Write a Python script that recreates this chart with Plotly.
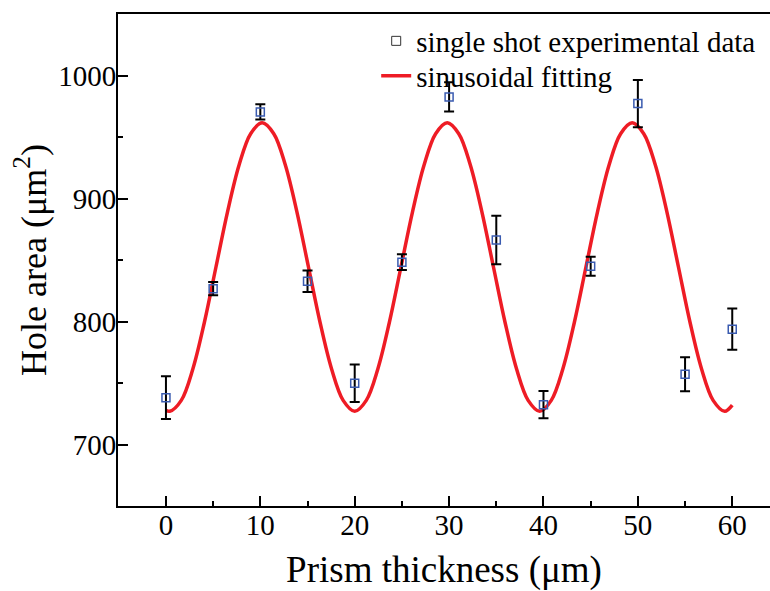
import plotly.graph_objects as go

thickness = [0, 5, 10, 15, 20, 25, 30, 35, 40, 45, 50, 55, 60]
hole_area = [738.1, 826.7, 970.4, 832.7, 749.8, 848.2, 982.6, 866.3, 732.4, 844.9, 977.2, 757.1, 793.8]
area_err = [17.3, 5.4, 6.2, 8.8, 15.3, 6.4, 11.9, 19.7, 11.0, 7.7, 19.2, 13.9, 16.7]

# Sinusoidal fitting curve
fit_x = [0, 0.4, 1.625, 2.85, 4.075, 5.3, 6.525, 7.75, 8.975, 10.2, 11.425, 12.65, 13.875,
         15.1, 16.325, 17.55, 18.775, 20.0, 21.225, 22.45, 23.675, 24.9, 26.125,
         27.35, 28.575, 29.8, 31.025, 32.25, 33.475, 34.7, 35.925, 37.15, 38.375,
         39.6, 40.825, 42.05, 43.275, 44.5, 45.725, 46.95, 48.175, 49.4, 50.625,
         51.85, 53.075, 54.3, 55.525, 56.75, 57.975, 59.2, 60]
fit_y = [727.9, 727.0, 735.9, 761.4, 799.4, 844.3, 889.2, 927.2, 952.7, 961.6, 952.7, 927.2, 889.2,
         844.3, 799.4, 761.4, 735.9, 727.0, 735.9, 761.4, 799.4, 844.3, 889.2,
         927.2, 952.7, 961.6, 952.7, 927.2, 889.2, 844.3, 799.4, 761.4, 735.9,
         727.0, 735.9, 761.4, 799.4, 844.3, 889.2, 927.2, 952.7, 961.6, 952.7,
         927.2, 889.2, 844.3, 799.4, 761.4, 735.9, 727.0, 732.0]

x_ticks = [0, 10, 20, 30, 40, 50, 60]
y_ticks = [700, 800, 900, 1000]

FONT = "Liberation Serif, Times New Roman, serif"

fig = go.Figure()

# legend-only entry for the data (grey square as in reference legend)
fig.add_trace(go.Scatter(
    x=[None], y=[None], mode="markers", name="single shot experimental data",
    marker=dict(symbol="square-open", size=9, color="#333333", line=dict(width=1)),
    legend="legend",
))

fig.add_trace(go.Scatter(
    x=fit_x, y=fit_y, mode="lines", name="sinusoidal fitting",
    line=dict(color="#ee1c25", width=3.5, shape="spline", smoothing=1.0),
    legend="legend2",
))

fig.add_trace(go.Scatter(
    x=thickness, y=hole_area, mode="markers", showlegend=False,
    marker=dict(symbol="square-open", size=8, color="#3a5bb0", line=dict(width=1.5)),
    error_y=dict(type="data", array=area_err, visible=True, color="black",
                 thickness=2, width=5),
))

legend_common = dict(xanchor="left", yanchor="middle",
                     bgcolor="rgba(0,0,0,0)", borderwidth=0,
                     font=dict(family=FONT, size=29, color="black"))

fig.update_layout(
    width=770, height=591,
    margin=dict(l=118, r=0, t=14, b=85),
    paper_bgcolor="white", plot_bgcolor="white",
    font=dict(family=FONT, color="black"),
    showlegend=True,
    legend=dict(x=0.396, y=1 - (41 - 14) / 492, **legend_common),
    legend2=dict(x=0.396, y=1 - (76 - 14) / 492, **legend_common),
)

fig.update_xaxes(
    range=[-5.08, 64.0], showgrid=False, zeroline=False,
    showline=True, linecolor="black", linewidth=2, mirror=True,
    ticks="inside", ticklen=10, tickwidth=2, tickcolor="black",
    tickvals=x_ticks, ticktext=[str(v) for v in x_ticks],
    tickfont=dict(family=FONT, size=29, color="black"),
    ticklabelstandoff=-8,
    minor=dict(dtick=5, tick0=0, ticks="inside", ticklen=5, tickwidth=2, tickcolor="black", showgrid=False),
    title=dict(text="Prism thickness (μm)", font=dict(family=FONT, size=37, color="black"), standoff=16),
    automargin=False,
)

fig.update_yaxes(
    range=[650, 1050], showgrid=False, zeroline=False,
    showline=True, linecolor="black", linewidth=2, mirror=False,
    ticks="inside", ticklen=10, tickwidth=2, tickcolor="black",
    tickvals=y_ticks, ticktext=[str(v) for v in y_ticks],
    tickfont=dict(family=FONT, size=29, color="black"),
    ticklabelstandoff=-6,
    minor=dict(dtick=50, tick0=650, ticks="inside", ticklen=5, tickwidth=2, tickcolor="black", showgrid=False),
    title=dict(text="Hole area (μm<sup>2</sup>)", font=dict(family=FONT, size=36, color="black"), standoff=1),
    automargin=False,
)

fig.write_html("out.html", config={"displayModeBar": False})

# remove the default page margin so the figure sits at the window's top-left corner
with open("out.html", "r", encoding="utf-8") as f:
    html = f.read()
html = html.replace("<head>", "<head><style>html,body{margin:0;padding:0;overflow:hidden;}</style>", 1)
with open("out.html", "w", encoding="utf-8") as f:
    f.write(html)
